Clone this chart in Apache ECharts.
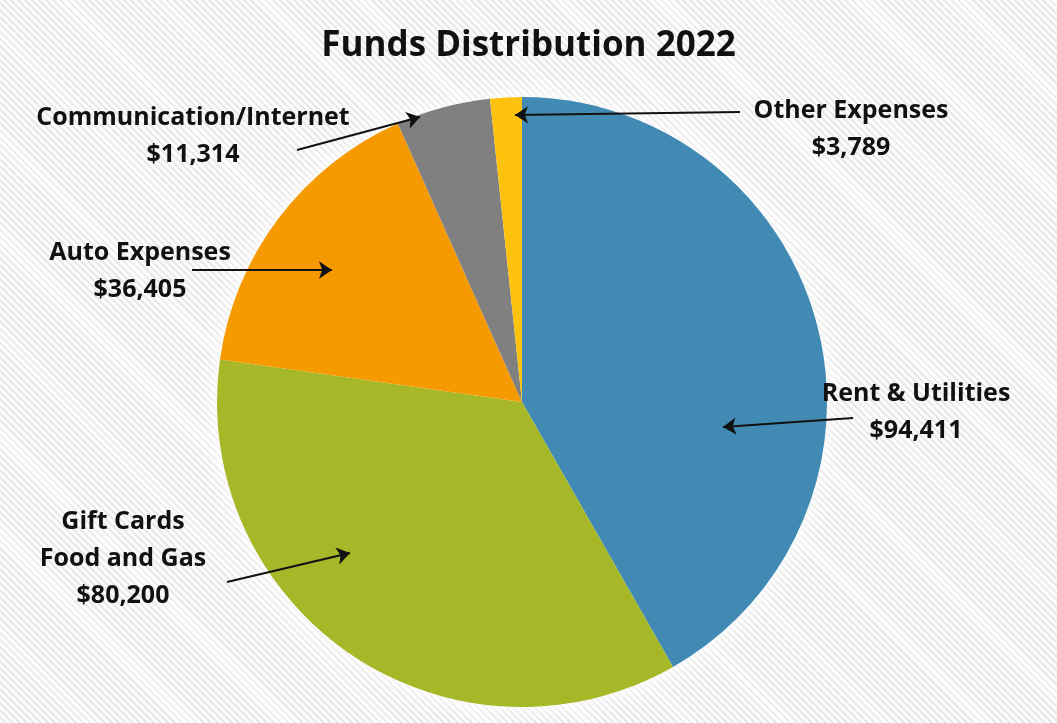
<!DOCTYPE html>
<html>
<head>
<meta charset="utf-8">
<script src="https://cdn.jsdelivr.net/npm/echarts@6/dist/echarts.min.js"></script>
<style>
html,body{margin:0;padding:0;width:1057px;height:723px;overflow:hidden;
background: repeating-linear-gradient(45deg, #fcfcfc 0px, #fcfcfc 3px, #e9e9e9 3px, #e9e9e9 5px);}
#c{width:1057px;height:723px;}
</style>
</head>
<body>
<div id="c"></div>
<script>
var categories = ['Rent & Utilities', 'Gift Cards\nFood and Gas', 'Auto Expenses', 'Communication/Internet', 'Other Expenses'];
var values = [94411, 80200, 36405, 11314, 3789];
var titleText = 'Funds Distribution 2022';

var colors = ['#418AB3', '#A6B727', '#F59A00', '#808080', '#FDC20D'];
// label anchor (center of text block) and arrow tail/tip for each slice
var labelPos = [[916, 412], [123, 559], [140, 271], [193, 136], [851, 129]];
var arrows = [
  [[853, 418], [723, 427]],
  [[227, 582], [350, 553]],
  [[192, 270], [332, 270]],
  [[297, 150], [420, 117]],
  [[740, 112], [515, 115]]
];

function fmt(v){ return '$' + v.toLocaleString('en-US'); }

var chart = echarts.init(document.getElementById('c'));
chart.setOption({
  backgroundColor: 'transparent',
  animation: false,
  title: {
    text: titleText, left: 'center', top: 24,
    textStyle: {fontFamily: 'Open Sans', fontWeight: 'bold', fontSize: 35, color: '#111'}
  },
  grid: {left: 0, right: 0, top: 0, bottom: 0},
  xAxis: {type: 'value', min: 0, max: 1057, show: false},
  yAxis: {type: 'value', min: 0, max: 723, inverse: true, show: false},
  series: [{
    type: 'pie',
    center: [522, 402],
    radius: 305,
    silent: true,
    z: 1,
    data: [{value: 1, itemStyle: {color: '#ffffff'}}],
    itemStyle: {shadowBlur: 22, shadowColor: 'rgba(255,255,255,1)'},
    label: {show: false},
    labelLine: {show: false}
  }, {
    type: 'pie',
    center: [522, 402],
    radius: 305,
    startAngle: 90,
    clockwise: true,
    z: 2,
    data: categories.map(function(c, i){ return {name: c, value: values[i], itemStyle: {color: colors[i]}}; }),
    itemStyle: {borderWidth: 0},
    label: {
      show: true,
      position: 'outside',
      overflow: 'none',
      width: 400,
      formatter: function(p){ return p.name + '\n' + fmt(p.value); },
      fontFamily: 'Open Sans', fontWeight: 'bold', fontSize: 25, lineHeight: 37, color: '#111', align: 'center'
    },
    labelLine: {show: false},
    labelLayout: function(p){
      var pos = labelPos[p.dataIndex];
      return {x: pos[0], y: pos[1], align: 'center', verticalAlign: 'middle'};
    },
    emphasis: {disabled: true}
  }, {
    type: 'lines',
    coordinateSystem: 'cartesian2d',
    symbol: ['none', 'arrow'],
    symbolSize: 13,
    lineStyle: {color: '#111', width: 2, opacity: 1},
    data: arrows.map(function(a){ return {coords: a}; }),
    silent: true,
    z: 10
  }]
});
</script>
</body>
</html>
